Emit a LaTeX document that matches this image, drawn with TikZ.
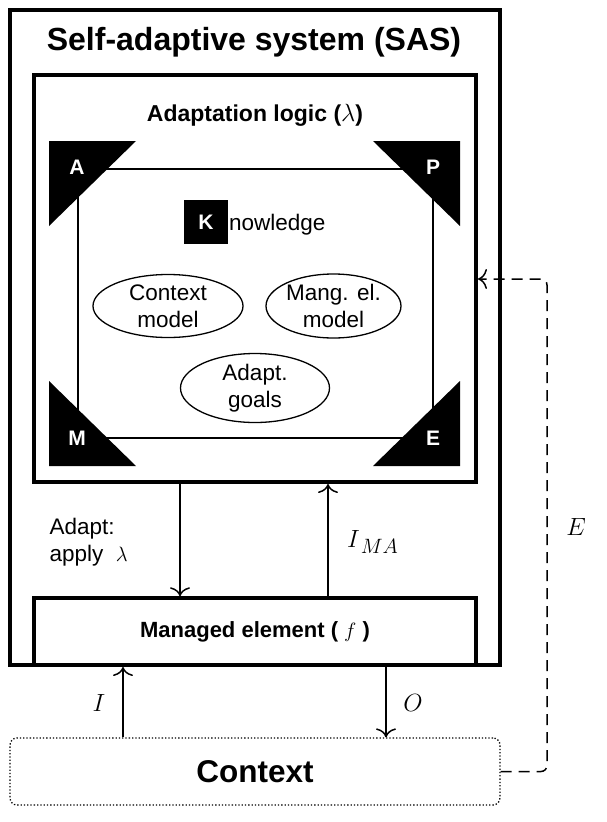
\documentclass[tikz,border=0pt]{standalone}
\usepackage{fontspec}
\setmainfont{Liberation Sans}
\usetikzlibrary{arrows.meta,shapes.geometric}
\begin{document}
\begin{tikzpicture}[x=1pt,y=-1pt,
  bigbox/.style={draw, line width=4pt, inner sep=0pt},
  midbox/.style={draw, line width=3.5pt, inner sep=0pt},
  arr/.style={line width=1.5pt, -{To[length=9pt,width=20pt]}},
  ell/.style={draw, ellipse, line width=1.3pt, inner sep=0pt, align=center, font=\fontsize{22.5}{27}\selectfont},
  cletter/.style={text=white, inner sep=0pt, font=\bfseries\fontsize{21}{25}\selectfont},
  normtxt/.style={font=\fontsize{22.5}{27}\selectfont},
  mathlbl/.style={inner sep=0pt, font=\fontsize{26}{30}\selectfont},
]
\useasboundingbox (0,0) rectangle (606,822);

% boxes
\node[bigbox, minimum width=490pt, minimum height=655pt] (sas) at (255,337.5) {};
\node[font=\bfseries\fontsize{32}{38}\selectfont] (title) at (254,42) {Self-adaptive system (SAS)};
\node[bigbox, minimum width=442pt, minimum height=407pt] (al) at (255,278.5) {};
\node[font=\bfseries\fontsize{23}{28}\selectfont] (altitle) at (255,115) {Adaptation logic ($\lambda$)};
\node[draw, line width=1.5pt, inner sep=0pt, minimum width=355pt, minimum height=269pt] (kr) at (255.5,303.5) {};

% corner triangles
\fill (49,141) -- (136,141) -- (49,226) -- cycle;
\fill (460,141) -- (373,141) -- (460,226) -- cycle;
\fill (49,466) -- (136,466) -- (49,381) -- cycle;
\fill (460,466) -- (373,466) -- (460,381) -- cycle;
\node[cletter] (la) at (77,167) {A};
\node[cletter] (lp) at (433,167) {P};
\node[cletter] (lm) at (77,438) {M};
\node[cletter] (le) at (433,438) {E};

% knowledge
\node[fill=black, minimum size=44pt, inner sep=0pt, text=white, font=\bfseries\fontsize{21}{25}\selectfont] (kbox) at (206,222) {K};
\node[normtxt, anchor=base west, inner sep=0pt] (know) at (229,230) {nowledge};
\node[ell, minimum width=150pt, minimum height=63pt] (cm) at (168,306) {Context\\model};
\node[ell, minimum width=135pt, minimum height=64pt] (mm) at (333.5,306) {Mang. el.\\model};
\node[ell, minimum width=149pt, minimum height=69pt] (ag) at (255,388) {Adapt.\\goals};

% managed element
\node[midbox, minimum width=442pt, minimum height=67pt, font=\bfseries\fontsize{22}{26}\selectfont] (me) at (255,631.5) {Managed element ( $f$ )};

% context
\node[draw, dotted, line width=1.3pt, rounded corners=7pt, minimum width=490pt, minimum height=67pt, inner sep=0pt, font=\bfseries\fontsize{31.5}{38}\selectfont] (ctx) at (255,771.5) {Context};

% connectors
\coordinate (xa) at (180,0);
\coordinate (xi) at (328,0);
\coordinate (xin) at (123,0);
\coordinate (xout) at (386,0);
\coordinate (ec) at (547,279);
\draw[arr] (al.south -| xa) -- (me.north -| xa);
\draw[arr] (me.north -| xi) -- (al.south -| xi);
\draw[arr] (ctx.north -| xin) -- (sas.south -| xin);
\draw[arr] (sas.south -| xout) -- (ctx.north -| xout);
\draw[arr, dash pattern=on 11pt off 7pt, rounded corners=6pt] (ctx.east) -| (ec) -- (al.east |- ec);

% labels
\node[normtxt, align=left, anchor=west] (adl) at (46,542) {Adapt:\\apply~ $\lambda$};
\node[mathlbl, anchor=west] (ima) at (347,542) {$I$\kern1pt\raisebox{-6pt}{\fontsize{21}{25}\selectfont$MA$}};
\node[mathlbl] (il) at (99,703) {$I$};
\node[mathlbl] (ol) at (413,703) {$O$};
\node[mathlbl] (el) at (576,527) {$E$};
\end{tikzpicture}
\end{document}
